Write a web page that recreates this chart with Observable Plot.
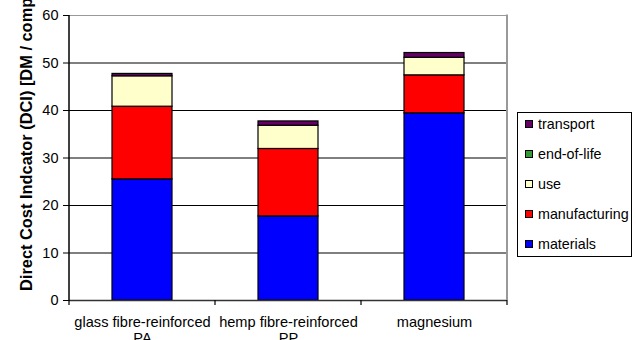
<!DOCTYPE html>
<html>
<head>
<meta charset="utf-8">
<script src="https://cdn.jsdelivr.net/npm/d3@7"></script>
<script src="https://cdn.jsdelivr.net/npm/@observablehq/plot@0.6"></script>
<style>
  html, body { margin: 0; padding: 0; background: #fff; }
  #wrap { position: relative; width: 636px; height: 340px; overflow: hidden; font-family: "Liberation Sans", Arial, sans-serif; }
  #legend { position: absolute; left: 517px; top: 112px; width: 115px; height: 145px; border: 1px solid #000; background: #fff; box-sizing: border-box; }
  .item { position: absolute; left: 7px; height: 16px; line-height: 16px; font-size: 14.3px; color: #000; white-space: nowrap; }
  .sw { display: inline-block; width: 6px; height: 6px; border: 1px solid #000; margin-right: 5px; vertical-align: 1px; }
</style>
</head>
<body>
<div id="wrap"></div>
<script>
const categories = ["glass fibre-reinforced PA", "hemp fibre-reinforced PP", "magnesium"];
const categoryLabels = ["glass fibre-reinforced\nPA", "hemp fibre-reinforced\nPP", "magnesium"];
const series = ["materials", "manufacturing", "use", "end-of-life", "transport"];
const materials = [25.5, 17.7, 39.4];
const manufacturing = [15.3, 14.2, 8.0];
const use = [6.4, 4.9, 3.7];
const endOfLife = [0, 0, 0];
const transport = [0.5, 0.9, 1.0];
const colors = ["#0000ff", "#ff0000", "#ffffcc", "#339933", "#660066"];
const yTicks = [0, 10, 20, 30, 40, 50, 60];
const yTitle = "Direct Cost Indcator (DCI) [DM / component]";

const valuesBySeries = [materials, manufacturing, use, endOfLife, transport];
const rows = [];
categories.forEach((c, i) => {
  series.forEach((s, j) => rows.push({category: c, series: s, value: valuesBySeries[j][i]}));
});

const font = '"Liberation Sans", Arial, sans-serif';
const pad = 0.589;
const plot = Plot.plot({
  width: 636,
  height: 340,
  marginLeft: 69,
  marginRight: 129,
  marginTop: 15,
  marginBottom: 40,
  style: {fontFamily: font, fontSize: "14px", color: "#000", background: "#fff", overflow: "visible"},
  x: {domain: categories, paddingInner: pad, paddingOuter: pad / 2, label: null},
  y: {domain: [0, 60], label: null},
  color: {domain: series, range: colors},
  marks: [
    Plot.ruleY(yTicks.filter(d => d > 0 && d < 60), {stroke: "#000", strokeWidth: 1}),
    Plot.ruleY([60], {stroke: "#999", strokeWidth: 1}),
    Plot.barY(rows, Plot.stackY({x: "category", y: "value", fill: "series", stroke: "#000", strokeWidth: 1.2, order: null})),
    Plot.ruleY([0], {stroke: "#333", strokeWidth: 1.5}),
    Plot.axisY({ticks: yTicks, tickSize: 6, tickPadding: 5, fontSize: 14.5, label: null}),
    Plot.axisX({tickSize: 0, tickPadding: 15, fontSize: 14.6, label: null, lineHeight: 1.1,
      tickFormat: d => categoryLabels[categories.indexOf(d)]})
  ]
});

const svg = d3.select(plot);
const xs = plot.scale("x");
const x0 = 69, x1 = 636 - 129, yb = 340 - 40, yt = 15;
svg.append("line").attr("x1", x0).attr("x2", x0).attr("y1", yt).attr("y2", yb + 0.5)
  .attr("stroke", "#000").attr("stroke-width", 1.5);
svg.append("line").attr("x1", x1).attr("x2", x1).attr("y1", yt - 0.5).attr("y2", yb)
  .attr("stroke", "#999").attr("stroke-width", 2);
const step = xs.step || (xs.bandwidth / (1 - pad));
const half = (step - xs.bandwidth) / 2;
const bounds = [xs.apply(categories[0]) - half];
categories.forEach(c => bounds.push(xs.apply(c) + xs.bandwidth + half));
bounds.forEach(b => svg.append("line").attr("x1", b).attr("x2", b).attr("y1", yb).attr("y2", yb + 5)
  .attr("stroke", "#000").attr("stroke-width", 1.2));
svg.append("text").attr("transform", `translate(32,291) rotate(-90)`)
  .attr("font-family", font).attr("font-weight", "bold").attr("font-size", 16.4)
  .attr("fill", "#000").attr("text-anchor", "start").text(yTitle);

const wrap = document.getElementById("wrap");
wrap.appendChild(plot);

const legend = document.createElement("div");
legend.id = "legend";
const order = ["transport", "end-of-life", "use", "manufacturing", "materials"];
order.forEach((s, k) => {
  const it = document.createElement("div");
  it.className = "item";
  it.style.top = (3 + k * 30) + "px";
  const sw = document.createElement("span");
  sw.className = "sw";
  sw.style.background = colors[series.indexOf(s)];
  it.appendChild(sw);
  it.appendChild(document.createTextNode(s));
  legend.appendChild(it);
});
wrap.appendChild(legend);
</script>
</body>
</html>
